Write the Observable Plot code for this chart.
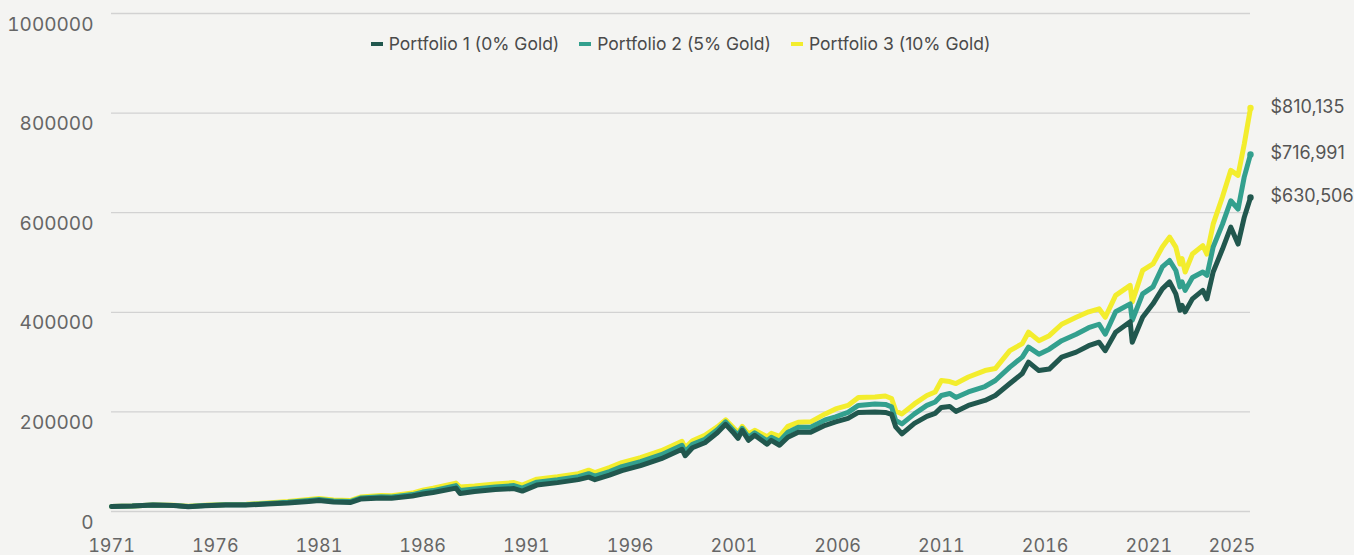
<!DOCTYPE html>
<html><head><meta charset="utf-8">
<script src="https://cdn.jsdelivr.net/npm/d3@7"></script>
<script src="https://cdn.jsdelivr.net/npm/@observablehq/plot@0.6"></script>
<style>
html,body{margin:0;padding:0;background:#f4f4f2;}
#wrap{position:relative;width:1354px;height:555px;overflow:hidden;background:#f4f4f2;}
#legend{position:absolute;left:111px;width:1139px;top:33px;display:flex;justify-content:center;font-family:Inter,sans-serif;font-size:17.5px;line-height:22px;color:#4a4a4a;}
.item{display:flex;align-items:center;margin:0 10px;}
.sw{width:12px;height:4px;margin-right:6px;}
</style></head><body><div id="wrap"><div id="legend"></div></div>
<script>
const seriesNames = ["Portfolio 1 (0% Gold)", "Portfolio 2 (5% Gold)", "Portfolio 3 (10% Gold)"];
const colors = ["#21574e", "#33a08e", "#f3ed2d"];
const yTicks = [0, 200000, 400000, 600000, 800000, 1000000];
const xTicks = [1971, 1976, 1981, 1986, 1991, 1996, 2001, 2006, 2011, 2016, 2021, 2025];

const years = [1971.0, 1972.0, 1973.0, 1974.0, 1974.7, 1975.5, 1976.5, 1977.5, 1978.5, 1979.5,
  1980.5, 1981.0, 1981.7, 1982.5, 1983.0, 1984.0, 1984.5, 1985.5, 1986.0, 1986.5,
  1987.6, 1987.8, 1988.5, 1989.5, 1990.4, 1990.8, 1991.5, 1992.5, 1993.5, 1994.0,
  1994.3, 1995.0, 1995.6, 1996.5, 1997.5, 1998.5, 1998.65, 1999.0, 1999.6, 2000.2,
  2000.6, 2001.0, 2001.2, 2001.4, 2001.7, 2002.0, 2002.6, 2002.8, 2003.2, 2003.6,
  2004.1, 2004.7, 2005.4, 2005.9, 2006.5, 2007.0, 2007.8, 2008.3, 2008.6, 2008.8,
  2009.1, 2009.7, 2010.3, 2010.7, 2011.0, 2011.4, 2011.7, 2012.3, 2013.1, 2013.6,
  2014.3, 2014.9, 2015.2, 2015.7, 2016.2, 2016.8, 2017.5, 2018.1, 2018.6, 2018.9,
  2019.4, 2020.1, 2020.2, 2020.7, 2021.2, 2021.65, 2022.0, 2022.3, 2022.5, 2022.6,
  2022.75, 2023.1, 2023.6, 2023.8, 2024.1, 2024.55, 2024.95, 2025.3, 2025.6, 2025.9];

const p1 = [10000, 11000, 13000, 12000, 9500, 11500, 13000, 13000, 15000, 17000,
  20000, 22000, 19000, 18000, 25000, 27000, 26500, 31000, 35000, 38000,
  47000, 36000, 40000, 44000, 46000, 41000, 53000, 58000, 64000, 69000,
  64000, 73000, 82000, 92000, 106000, 125000, 112000, 128000, 138000, 158000,
  175000, 157000, 147000, 163000, 143000, 153000, 135000, 143000, 133000, 149000,
  159000, 159000, 173000, 180000, 187000, 199000, 200000, 199000, 195000, 170000,
  156000, 177000, 191000, 197000, 209000, 211000, 201000, 213000, 223000, 233000,
  257000, 277000, 300000, 283000, 286000, 310000, 320000, 333000, 340000, 323000,
  360000, 381000, 340000, 390000, 417000, 447000, 461000, 437000, 404000, 414000,
  401000, 427000, 444000, 427000, 481000, 527000, 571000, 537000, 591000, 630506];

const p2 = [10000, 11000, 13000, 12300, 10000, 12000, 13500, 13800, 16000, 18500,
  22000, 24000, 21000, 20000, 27000, 29500, 29000, 34000, 39000, 42000,
  52000, 42000, 45000, 49000, 52000, 47000, 59000, 64000, 70000, 76000,
  71000, 80000, 90000, 100000, 114000, 133000, 120000, 135000, 145000, 164000,
  180000, 162000, 153000, 167000, 149000, 158000, 142000, 149000, 141000, 159000,
  169000, 169000, 184000, 190000, 199000, 213000, 216000, 215000, 210000, 183000,
  176000, 196000, 213000, 220000, 233000, 237000, 229000, 240000, 251000, 263000,
  290000, 310000, 330000, 316000, 326000, 343000, 356000, 369000, 376000, 356000,
  401000, 417000, 384000, 437000, 451000, 491000, 504000, 484000, 451000, 461000,
  444000, 470000, 481000, 474000, 531000, 577000, 624000, 607000, 672000, 716991];

const p3 = [10000, 11000, 13200, 12600, 10500, 12500, 14000, 14500, 17000, 20000,
  24000, 26000, 23000, 22000, 29000, 32000, 31500, 37000, 43000, 47000,
  57000, 49000, 51000, 55000, 58000, 53000, 65000, 70000, 76000, 83000,
  78000, 88000, 98000, 108000, 122000, 141000, 128000, 142000, 153000, 170000,
  184000, 167000, 159000, 171000, 156000, 163000, 150000, 157000, 151000, 171000,
  179000, 180000, 196000, 206000, 213000, 229000, 230000, 232000, 227000, 202000,
  196000, 216000, 233000, 240000, 263000, 261000, 257000, 270000, 283000, 287000,
  323000, 337000, 360000, 343000, 353000, 376000, 390000, 401000, 407000, 390000,
  434000, 454000, 421000, 484000, 497000, 531000, 551000, 531000, 497000, 508000,
  481000, 517000, 534000, 517000, 577000, 632000, 685000, 675000, 738000, 810135];

const seriesValues = [p1, p2, p3];
const tables = seriesNames.map((s, i) => years.map((yr, j) => ({series: s, year: yr, value: seriesValues[i][j]})));
const lastPoints = tables.map(t => t[t.length - 1]);
const fmt = d3.format(",");

const lineMarks = [2, 1, 0].map(i => Plot.lineY(tables[i], {
  x: "year", y: "value", stroke: colors[i], strokeWidth: 5,
  strokeLinecap: "round", strokeLinejoin: "round"
}));
const dotMarks = [2, 1, 0].map(i => Plot.dot([lastPoints[i]], {
  x: "year", y: "value", r: 3.2, fill: colors[i], stroke: "none"
}));

const chart = Plot.plot({
  width: 1354, height: 555,
  marginLeft: 111, marginRight: 104, marginTop: 13, marginBottom: 44,
  style: {background: "transparent", fontFamily: "Inter, sans-serif", overflow: "visible"},
  x: {domain: [1971, 2025.9], label: null},
  y: {domain: [0, 1000000], label: null},
  marks: [
    Plot.gridY(yTicks, {stroke: "#d2d2d2", strokeOpacity: 1, strokeWidth: 1.3}),
    Plot.axisY(yTicks, {tickSize: 0, tickPadding: 18, fontSize: 19, dy: 11, fill: "#666", label: null, tickFormat: d => String(d)}),
    Plot.axisX(xTicks, {tickSize: 0, tickPadding: 28, fontSize: 18, fill: "#666", label: null, tickFormat: d => String(d)}),
    ...lineMarks,
    ...dotMarks,
    Plot.text(lastPoints, {x: "year", y: "value", text: d => "$" + fmt(d.value), dx: 20, dy: -1,
      textAnchor: "start", fontSize: 18, fill: "#555"})
  ]
});
document.getElementById("wrap").appendChild(chart);

const legend = document.getElementById("legend");
seriesNames.forEach((s, i) => {
  const item = document.createElement("div");
  item.className = "item";
  const sw = document.createElement("span");
  sw.className = "sw";
  sw.style.background = colors[i];
  const tx = document.createElement("span");
  tx.textContent = s;
  item.appendChild(sw); item.appendChild(tx);
  legend.appendChild(item);
});
</script>
</body></html>
